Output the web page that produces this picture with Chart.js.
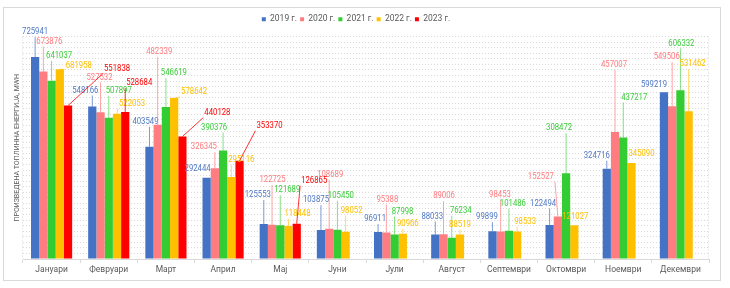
<!DOCTYPE html>
<html><head><meta charset="utf-8">
<script src="https://cdn.jsdelivr.net/npm/chart.js@4.4.0/dist/chart.umd.min.js"></script>
<style>html,body{margin:0;padding:0;background:#fff}#wrap{width:730px;height:288px;position:relative}</style>
</head><body><div id="wrap"><canvas id="c"></canvas></div>
<script>
const months = ['Јануари','Февруари','Март','Април','Мај','Јуни','Јули','Август','Септември','Октомври','Ноември','Декември'];
const seriesNames = ['2019 г.','2020 г.','2021 г.','2022 г.','2023 г.'];
const v2019 = [725941, 548166, 403549, 292444, 125553, 103875, 96911, 88033, 99899, 122494, 324716, 599219];
const v2020 = [673876, 527532, 482339, 326345, 122725, 108689, 95388, 89006, 98453, 152527, 457007, 549506];
const v2021 = [641037, 507897, 546619, 390376, 121689, 105450, 87998, 76234, 101486, 308472, 437217, 606332];
const v2022 = [681958, 522053, 578642, 295116, 118448, 98052, 90966, 88519, 98533, 121027, 345090, 531462];
const v2023 = [551838, 528684, 440128, 353370, 126865, null, null, null, null, null, null, null];
const yAxisTitle = 'ПРОИЗВЕДЕНА ТОПЛИННА ЕНЕРГИЈА, MWH';
const yMin = 0, yMax = 800000, yStep = 20000;

const colors = ['#4472C4','#FF7C80','#33CC33','#FFC000','#FF0000'];
const labelColors = ['#4f78c6','#FF7C80','#3acd3a','#FFC000','#FF0000'];
const leaderColors = ['rgba(68,114,196,0.7)','rgba(255,124,128,0.7)','rgba(51,204,51,0.6)','rgba(255,192,0,0.6)','rgba(255,0,0,0.8)'];
// label offsets (dx, dy) from bar top, per series
const labelOffsets = [
  [[0,-25],[-7,-16],[-4,-25],[-9,-9],[-6,-29],[-5,-30],[-3,-13],[-3,-18],[-5.5,-14],[-6.5,-21.6],[-10,-13],[-10,-8]],
  [[6,-30],[-1,-35],[1.5,-73],[-11,-21],[0.5,-45],[1,-54],[1,-33],[0.5,-38],[-0.7,-37],[-17,-40],[-1,-67],[-5.5,-49]],
  [[7.5,-25],[10,-27],[8,-34],[-9,-23],[7,-35],[3.5,-34],[8,-23],[9,-27],[4,-27],[-7,-45],[11,-40],[1,-47]],
  [[19,-4],[15,-10],[20,-6],[10,-17],[9,-12],[6,-21],[5,-10],[0,-10],[8,-10],[1,-9],[10,-9],[4,-47]],
  [[49,-37],[14,-29],[35,-24],[30,-35],[17.5,-43],[0,0],[0,0],[0,0],[0,0],[0,0],[0,0],[0,0]]
];
const FONT = 'Roboto, "Liberation Sans", sans-serif';
const SQUEEZE = 0.86;

const framePlugin = {
  id:'frame',
  beforeDraw(chart){
    const ctx = chart.ctx;
    ctx.save();
    ctx.fillStyle = '#fff';
    ctx.fillRect(0,0,chart.width,chart.height);
    ctx.strokeStyle = '#d9d9d9'; ctx.lineWidth = 1;
    ctx.strokeRect(3.5,7.5,717,273);
    ctx.restore();
  },
  beforeDatasetsDraw(chart){
    const ctx = chart.ctx, a = chart.chartArea;
    ctx.save();
    ctx.strokeStyle = '#d9d9d9'; ctx.lineWidth = 1; ctx.setLineDash([1,2]);
    ctx.beginPath();
    ctx.moveTo(Math.round(a.left)-0.5, a.top); ctx.lineTo(Math.round(a.left)-0.5, a.bottom);
    ctx.moveTo(Math.round(a.right)-0.5, a.top); ctx.lineTo(Math.round(a.right)-0.5, a.bottom);
    ctx.stroke();
    ctx.restore();
  }
};

const labelPlugin = {
  id:'lbl',
  afterDatasetsDraw(chart){
    const ctx = chart.ctx;
    ctx.save();
    ctx.font = '9px ' + FONT;
    ctx.textAlign = 'center'; ctx.textBaseline = 'middle';
    chart.data.datasets.forEach((ds,di)=>{
      const meta = chart.getDatasetMeta(di);
      meta.data.forEach((bar,i)=>{
        const v = ds.data[i];
        if (v == null) return;
        const off = labelOffsets[di][i];
        const lx = bar.x + off[0], ly = bar.y + off[1];
        const txt = String(v);
        const w = ctx.measureText(txt).width * SQUEEZE, h = 8;
        const rx0 = lx-w/2-1, rx1 = lx+w/2+1, ry0 = ly-h/2-1, ry1 = ly+h/2+1;
        const nx = Math.min(Math.max(bar.x,rx0),rx1), ny = Math.min(Math.max(bar.y,ry0),ry1);
        if (Math.hypot(nx-bar.x, ny-bar.y) > 4) {
          ctx.strokeStyle = leaderColors[di]; ctx.lineWidth = 1;
          ctx.beginPath(); ctx.moveTo(nx, ny); ctx.lineTo(bar.x, bar.y); ctx.stroke();
        }
        ctx.save();
        ctx.translate(lx, ly); ctx.scale(SQUEEZE, 1);
        ctx.fillStyle = labelColors[di];
        ctx.fillText(txt, 0, 0);
        ctx.restore();
      });
    });
    ctx.restore();
  }
};

const seriesValues = [v2019, v2020, v2021, v2022, v2023];
new Chart(document.getElementById('c'), {
  type:'bar',
  data:{
    labels: months,
    datasets: seriesNames.map((n,i)=>({
      label:n, data:seriesValues[i], backgroundColor:colors[i], borderWidth:0,
      categoryPercentage:0.72, barPercentage:1.0
    }))
  },
  options:{
    responsive:true, maintainAspectRatio:false, animation:false,
    layout:{padding:{left:3,right:21,top:12,bottom:9}},
    plugins:{
      tooltip:{enabled:false},
      legend:{display:true, position:'top', align:'center',
        labels:{boxWidth:4, boxHeight:4, padding:3, color:'#595959', font:{size:8.5, family:FONT}}}
    },
    scales:{
      x:{
        offset:true,
        grid:{display:true, drawOnChartArea:false, drawTicks:true, tickLength:4, color:'#d9d9d9', offset:true},
        border:{display:true, color:'#d9d9d9'},
        ticks:{color:'#595959', font:{size:8.5, family:FONT}, padding:2, maxRotation:0, autoSkip:false},
        afterFit(s){ s.height = 20; }
      },
      xTop:{
        type:'category', position:'top', display:true,
        grid:{display:false}, ticks:{display:false}, border:{display:false},
        afterFit(s){ s.height = 3; }
      },
      y:{
        min:yMin, max:yMax,
        ticks:{display:false, stepSize:yStep},
        grid:{color:'#d9d9d9', drawTicks:false, lineWidth:1},
        border:{display:false, dash:[1,2]},
        title:{display:true, text:yAxisTitle, color:'#595959', font:{size:7, family:FONT}, padding:{top:10,bottom:0}},
        afterFit(s){ s.width = 20; }
      }
    }
  },
  plugins:[framePlugin, labelPlugin]
});
</script></body></html>
